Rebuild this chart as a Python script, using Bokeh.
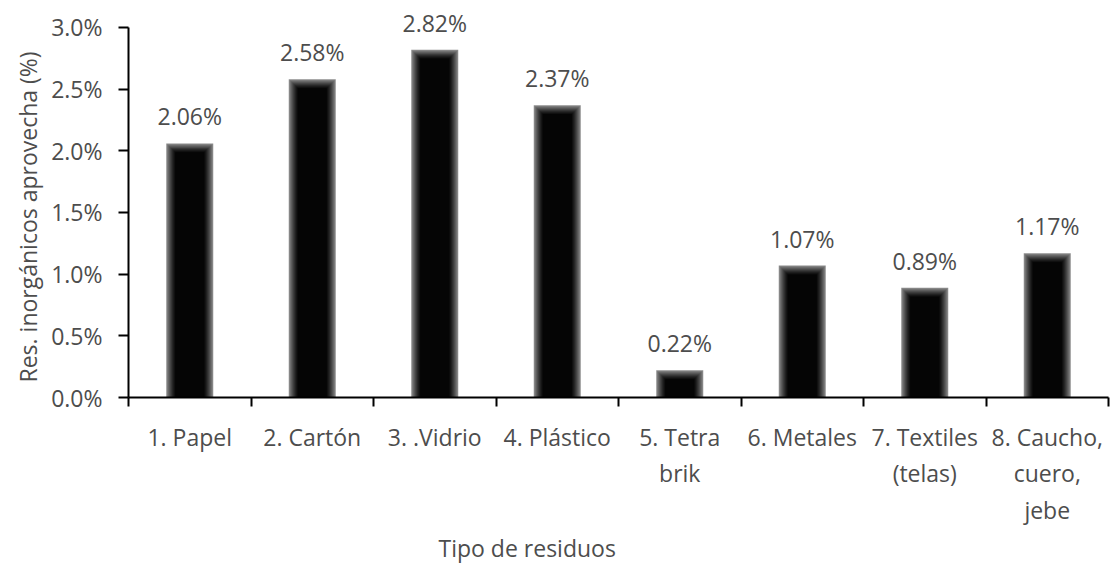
from bokeh.plotting import figure
from bokeh.models import Range1d, FixedTicker, PrintfTickFormatter, Title, ColumnDataSource
from bokeh.embed import file_html
from bokeh.resources import INLINE
from bokeh.core.properties import value

categories = ["1. Papel", "2. Cartón", "3. .Vidrio", "4. Plástico", "5. Tetra\nbrik",
              "6. Metales", "7. Textiles\n(telas)", "8. Caucho,\ncuero,\njebe"]
values = [2.06, 2.58, 2.82, 2.37, 0.22, 1.07, 0.89, 1.17]
y_ticks = [0.0, 0.5, 1.0, 1.5, 2.0, 2.5, 3.0]
y_title = "Res. inorgánicos aprovecha (%)"
x_title = "Tipo de residuos"

FONT = "Open Sans"
TXT = "#4d4d4d"
FS = "23px"

W, H = 1110, 563
L, R, T, B = 128, 2, 27, 165      # plot area of the reference: 3.0% line at y=27
n = len(categories)
ymax = 3.0
frame_w = W - L - R
px_x = n / frame_w
px_y = ymax / (H - T - B)
# extend the frame to the top of the canvas so value labels are not clipped
y_end = ymax + T * px_y

p = figure(width=W, height=H, x_range=Range1d(0, n), y_range=Range1d(0, y_end),
           output_backend="svg", toolbar_location=None,
           min_border_left=L, min_border_right=R, min_border_top=0, min_border_bottom=B)
p.outline_line_color = None
p.xgrid.visible = False
p.ygrid.visible = False
p.background_fill_color = "white"
p.border_fill_color = "white"

xs = [i + 0.5 for i in range(n)]

# bars with soft edge shading (layered)
bar_w = 47 * px_x
layers = 10
for k in range(layers):
    g = int(round(135 * (1 - k / layers) ** 1.4)) if k > 0 else 140
    col = "#%02x%02x%02x" % (g, g, g)
    tops = [max(v - k * px_y, 0) for v in values]
    src = ColumnDataSource(dict(x=xs, top=tops))
    p.vbar(x="x", top="top", bottom=0, width=bar_w - 2 * k * px_x, source=src,
           fill_color=col, line_color=None)

# value labels
lab_src = ColumnDataSource(dict(x=xs, y=values, t=["%.2f%%" % v for v in values]))
p.text(x="x", y="y", text="t", source=lab_src, text_align="center", text_baseline="alphabetic",
       y_offset=-27, text_font=value(FONT), text_font_size=FS, text_color=TXT)

# x axis
xa = p.xaxis[0]
xa.ticker = FixedTicker(ticks=xs, minor_ticks=list(range(n + 1)))
xa.major_label_overrides = {x: c for x, c in zip(xs, categories)}
xa.major_tick_line_color = None
xa.major_tick_out = 0
xa.major_tick_in = 0
xa.minor_tick_line_color = "black"
xa.minor_tick_line_width = 2
xa.minor_tick_out = 9
xa.minor_tick_in = 0
xa.axis_line_color = "black"
xa.axis_line_width = 2
xa.major_label_standoff = 14
xa.major_label_text_font = FONT
xa.major_label_text_font_size = FS
xa.major_label_text_color = TXT
xa.major_label_text_line_height = 1.15

# y axis
ya = p.yaxis[0]
ya.bounds = (0, ymax)
ya.ticker = FixedTicker(ticks=y_ticks, minor_ticks=[])
ya.formatter = PrintfTickFormatter(format="%.1f%%")
ya.major_tick_line_color = "black"
ya.major_tick_line_width = 2
ya.major_tick_out = 10
ya.major_tick_in = 0
ya.minor_tick_line_color = None
ya.axis_line_color = "black"
ya.axis_line_width = 2
ya.major_label_standoff = 16
ya.major_label_text_font = FONT
ya.major_label_text_font_size = FS
ya.major_label_text_color = TXT

# y axis title, centred on the 0-3% span (not the extended frame)
p.add_layout(Title(text=y_title, align="left", offset=15, text_font=FONT,
                   text_font_size=FS, text_font_style="normal", text_color=TXT,
                   standoff=10), "left")

# x axis title (offset to the left like the reference)
p.add_layout(Title(text=x_title, align="left", offset=310, text_font=FONT,
                   text_font_size=FS, text_font_style="normal", text_color=TXT,
                   standoff=0), "below")

open("out.html", "w").write(file_html(p, INLINE))
